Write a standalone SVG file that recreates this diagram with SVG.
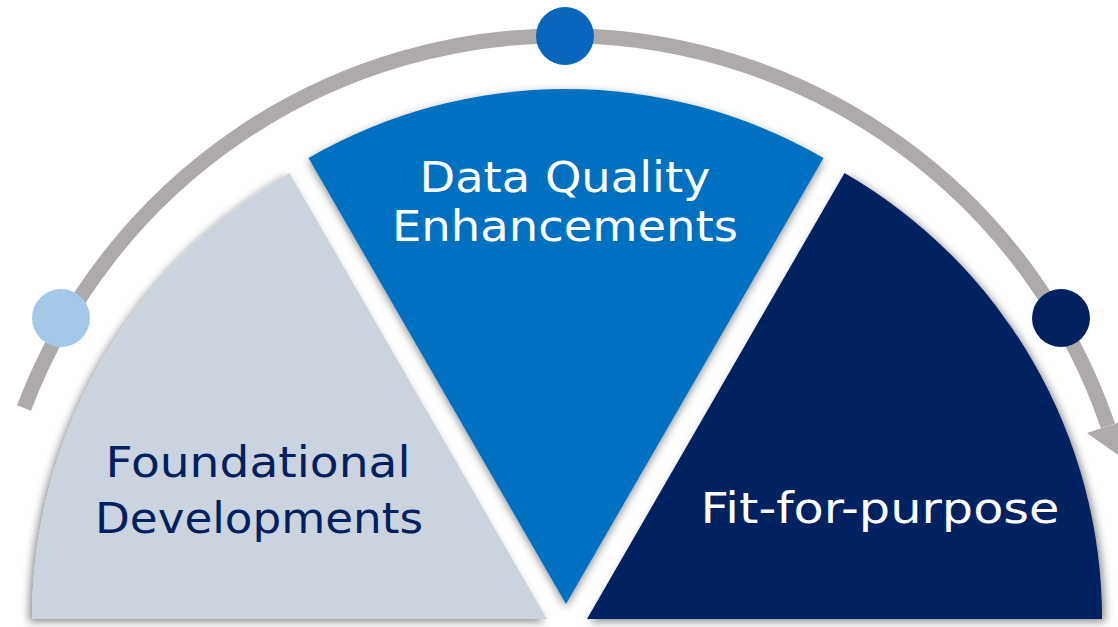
<svg xmlns="http://www.w3.org/2000/svg" width="1118" height="627" viewBox="0 0 1118 627">
  <defs>
    <filter id="shL" x="-10%" y="-10%" width="120%" height="120%">
      <feDropShadow dx="-3" dy="3" stdDeviation="4" flood-color="#000" flood-opacity="0.45"/>
    </filter>
    <filter id="shC" x="-10%" y="-10%" width="120%" height="120%">
      <feDropShadow dx="0" dy="3" stdDeviation="4" flood-color="#000" flood-opacity="0.45"/>
    </filter>
    <filter id="shR" x="-10%" y="-10%" width="120%" height="120%">
      <feDropShadow dx="3" dy="3" stdDeviation="4" flood-color="#000" flood-opacity="0.45"/>
    </filter>
  </defs>
  <style>
    .lbl { font-family: "DejaVu Sans", "Open Sans", sans-serif; font-size: 42px; text-anchor: middle; }
    .dark { fill: #002060; }
    .light { fill: #ffffff; }
  </style>
  <rect width="1118" height="627" fill="#ffffff"/>
  <g id="connectors">
    <path d="M24,408 A576,576 0 0 1 1108,426" fill="none" stroke="#AEAAAA" stroke-width="15"/>
    <polygon points="1087,433 1129,419 1118,455" fill="#AEAAAA"/>
  </g>
  <g id="wedge-foundational">
    <path d="M547,619 L32,619 A515,515 0 0 1 289.5,173 Z" fill="#CBD4DE" filter="url(#shL)"/>
    <text class="lbl dark" x="258" y="477" textLength="305" lengthAdjust="spacingAndGlyphs">Foundational</text>
    <text class="lbl dark" x="259" y="533" textLength="328" lengthAdjust="spacingAndGlyphs">Developments</text>
  </g>
  <g id="wedge-quality">
    <path d="M566,604 L308.5,158 A515,515 0 0 1 823.5,158 Z" fill="#0070C0" filter="url(#shC)"/>
    <text class="lbl light" x="565" y="192" textLength="291" lengthAdjust="spacingAndGlyphs">Data Quality</text>
    <text class="lbl light" x="565" y="241" textLength="346" lengthAdjust="spacingAndGlyphs">Enhancements</text>
  </g>
  <g id="wedge-fit">
    <path d="M587,619 L844.5,173 A515,515 0 0 1 1102,619 Z" fill="#002060" filter="url(#shR)"/>
    <text class="lbl light" x="880" y="523" textLength="359" lengthAdjust="spacingAndGlyphs">Fit-for-purpose</text>
  </g>
  <g id="marker-1"><circle cx="61" cy="318" r="29" fill="#A4C8EA"/></g>
  <g id="marker-2"><circle cx="565" cy="36" r="29" fill="#0866BC"/></g>
  <g id="marker-3"><circle cx="1061" cy="318" r="29" fill="#002060"/></g>
</svg>
